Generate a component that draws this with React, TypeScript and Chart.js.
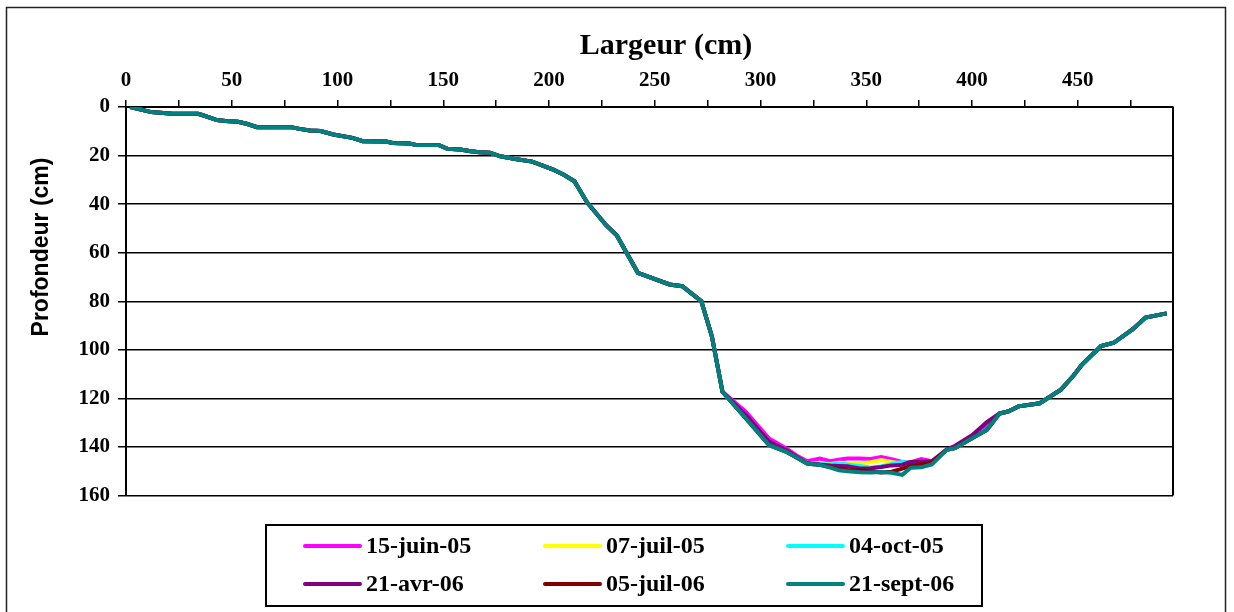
import React, { useEffect, useRef } from "react";
import { Chart, registerables } from "chart.js";

Chart.register(...registerables);

// Largeur (cm) of each survey point
const largeur = [2, 12, 22, 34, 36, 43, 47, 53, 57, 62, 78, 82, 87, 92, 98, 107, 112, 123, 126, 134, 137, 148, 152, 158, 163, 167, 172, 177, 184, 192, 197, 202, 207, 212, 218, 227, 232, 242, 257, 263, 272, 277, 282, 293, 304, 312, 317, 322, 328, 333, 337, 341, 347, 352, 357, 362, 367, 371, 376, 381, 388, 392, 400, 407, 413, 417, 422, 432, 442, 448, 452, 461, 467, 476, 482, 492];

// Profondeur (cm) on the left bank, identical for all dates (first 43 points)
const bergeGauche = [0, 2.1, 2.8, 2.8, 3.3, 5.4, 5.8, 6.1, 6.9, 8.3, 8.3, 9.0, 9.7, 9.9, 11.3, 12.7, 14.1, 14.2, 14.8, 15.0, 15.6, 15.7, 17.2, 17.5, 18.2, 18.6, 18.8, 20.3, 21.4, 22.5, 24.1, 25.8, 27.9, 30.6, 39.3, 48.7, 52.8, 68.3, 73.1, 73.8, 80, 94.5, 117.3];

// Profondeur (cm) of the channel bed for each date (x = 293 ... 413)
const fond15Juin05 = [125.5, 136.5, 140.5, 143.5, 145.9, 144.8, 145.9, 145.3, 144.8, 144.8, 145, 144.2, 145, 146.2, 146.4, 145, 145.9, 141.2, 140.2, 135.8, 131.8, 126.2];
const fond07Juil05 = [128.2, 139.2, 141.9, 144.3, 146.5, 146.8, 147, 146.5, 146.6, 146.8, 146.3, 145.4, 146.2, 146.8, 146.8, 146.5, 146.2, 141.2, 140.5, 136.4, 133, 126.2];
const fond04Oct05 = [128.2, 139.2, 141.9, 144.3, 146.7, 147, 147.2, 146.8, 147.2, 147.8, 148.6, 148, 147, 146.2, 146.5, 146.5, 146.5, 141.2, 140.3, 136.2, 132.8, 126.2];
const fond21Avr06 = [126.8, 137.8, 141.3, 144, 146.6, 147.2, 147.6, 147.8, 148, 148.9, 148.8, 148.3, 147.6, 147.3, 146.2, 146, 145.9, 141, 139.5, 135.2, 129.8, 126.2];
const fond05Juil06 = [128.2, 139.2, 141.9, 144.3, 146.8, 147.4, 148.3, 149, 149.5, 149.6, 150, 150.5, 150.2, 148.9, 147.8, 147, 146.4, 141.2, 140.5, 136.4, 133, 126.2];
const fond21Sept06 = [128.2, 139.2, 141.9, 144.3, 146.8, 147.4, 148.5, 149.6, 150, 150.4, 150.5, 150.3, 150.6, 151.5, 148.6, 148.4, 147.2, 141.2, 140.5, 136.4, 133, 126.2];

// Profondeur (cm) on the right bank, identical for all dates (last 11 points)
const bergeDroite = [125.4, 123.3, 122, 116.4, 110.6, 106.1, 98.5, 97.1, 91.5, 86.7, 85];

const dates = ["15-juin-05", "07-juil-05", "04-oct-05", "21-avr-06", "05-juil-06", "21-sept-06"];
const couleurs = ["#FF00FF", "#FFFF00", "#00FFFF", "#800080", "#800000", "#008080"];
const fonds = [fond15Juin05, fond07Juil05, fond04Oct05, fond21Avr06, fond05Juil06, fond21Sept06];

const xTicks = [0, 25, 50, 75, 100, 125, 150, 175, 200, 225, 250, 275, 300, 325, 350, 375, 400, 425, 450, 475];
const xLabelStep = 50;
const xMax = 495;
const yMax = 160;
const yStep = 20;

const titreX = "Largeur (cm)";
const titreY = "Profondeur (cm)";

const SERIF = '"Liberation Serif", "Times New Roman", serif';
const SANS = '"Liberation Sans", Arial, sans-serif';

const decorPlugin = {
  id: "decor",
  beforeDraw(chart: any) {
    const ctx = chart.ctx;
    ctx.save();
    ctx.fillStyle = "#fff";
    ctx.fillRect(0, 0, chart.width, chart.height);
    ctx.restore();
  },
  afterDraw(chart: any) {
    const ctx = chart.ctx;
    const a = chart.chartArea;
    ctx.save();
    // right border of the plot area
    ctx.strokeStyle = "#000";
    ctx.lineWidth = 2;
    ctx.beginPath();
    ctx.moveTo(a.right, a.top);
    ctx.lineTo(a.right, a.bottom);
    ctx.stroke();
    // outer frame
    ctx.strokeStyle = "#222";
    ctx.lineWidth = 1.5;
    ctx.beginPath();
    ctx.moveTo(6.5, 700);
    ctx.lineTo(6.5, 7.5);
    ctx.lineTo(1225.5, 7.5);
    ctx.lineTo(1225.5, 700);
    ctx.stroke();
    // titles
    ctx.fillStyle = "#000";
    ctx.font = `bold 30px ${SERIF}`;
    ctx.textAlign = "center";
    ctx.textBaseline = "middle";
    ctx.fillText(titreX, 666, 46);
    ctx.save();
    ctx.translate(42, 247);
    ctx.rotate(-Math.PI / 2);
    ctx.font = `bold 23px ${SANS}`;
    ctx.fillText(titreY, 0, 0);
    ctx.restore();
    // legend
    ctx.strokeStyle = "#000";
    ctx.lineWidth = 2;
    ctx.strokeRect(266, 525, 716, 81);
    const cols = [305, 545, 788];
    const rows = [546, 584];
    ctx.font = `bold 24px ${SERIF}`;
    ctx.textAlign = "left";
    chart.data.datasets.forEach((ds: any, i: number) => {
      const x0 = cols[i % 3];
      const y0 = rows[Math.floor(i / 3)];
      ctx.strokeStyle = ds.borderColor;
      ctx.lineWidth = 4;
      ctx.lineCap = "round";
      ctx.beginPath();
      ctx.moveTo(x0, y0);
      ctx.lineTo(x0 + 55, y0);
      ctx.stroke();
      ctx.fillStyle = "#000";
      ctx.fillText(ds.label, x0 + 61, y0 + 1);
    });
    ctx.restore();
  },
};

export default function App() {
  const ref = useRef<HTMLCanvasElement | null>(null);

  useEffect(() => {
    if (!ref.current) return;
    const datasets = dates.map((label, k) => ({
      label,
      data: [...bergeGauche, ...fonds[k], ...bergeDroite].map((d, i) => ({ x: largeur[i], y: d })),
      borderColor: couleurs[k],
      backgroundColor: couleurs[k],
      borderWidth: 4,
      pointRadius: 0,
      tension: 0,
      fill: false,
      order: dates.length - k,
    }));

    const chart = new Chart(ref.current, {
      type: "line",
      data: { datasets },
      plugins: [decorPlugin],
      options: {
        responsive: false,
        animation: false,
        devicePixelRatio: 1,
        layout: { padding: { left: 0, top: 0, right: 61, bottom: 116.5 } },
        plugins: {
          legend: { display: false },
          tooltip: { enabled: false },
          title: { display: false },
        },
        scales: {
          x: {
            type: "linear",
            position: "top",
            min: 0,
            max: xMax,
            afterBuildTicks: (scale: any) => {
              scale.ticks = xTicks.map((v) => ({ value: v }));
            },
            afterFit: (scale: any) => {
              scale.height = 107;
            },
            ticks: {
              autoSkip: false,
              maxRotation: 0,
              padding: 7,
              color: "#000",
              font: { family: SERIF, weight: "bold", size: 21 },
              callback: (v: any) => (Number(v) % xLabelStep === 0 ? String(v) : ""),
            },
            grid: {
              drawOnChartArea: false,
              drawTicks: true,
              tickLength: 7,
              color: "#000",
              lineWidth: 1.5,
            },
            border: { display: true, color: "#000", width: 2 },
          },
          y: {
            type: "linear",
            reverse: true,
            min: 0,
            max: yMax,
            afterFit: (scale: any) => {
              scale.width = 126;
            },
            ticks: {
              stepSize: yStep,
              padding: 8,
              color: "#000",
              font: { family: SERIF, weight: "bold", size: 21 },
            },
            grid: {
              color: "#000",
              lineWidth: 1.5,
              drawTicks: true,
              tickLength: 8,
            },
            border: { display: true, color: "#000", width: 2 },
          },
        },
      },
    } as any);
    return () => chart.destroy();
  }, []);

  return (
    <div style={{ position: "absolute", left: 0, top: 0, width: 1234, height: 612, background: "#fff" }}>
      <canvas ref={ref} width={1234} height={612} style={{ display: "block" }} />
    </div>
  );
}
